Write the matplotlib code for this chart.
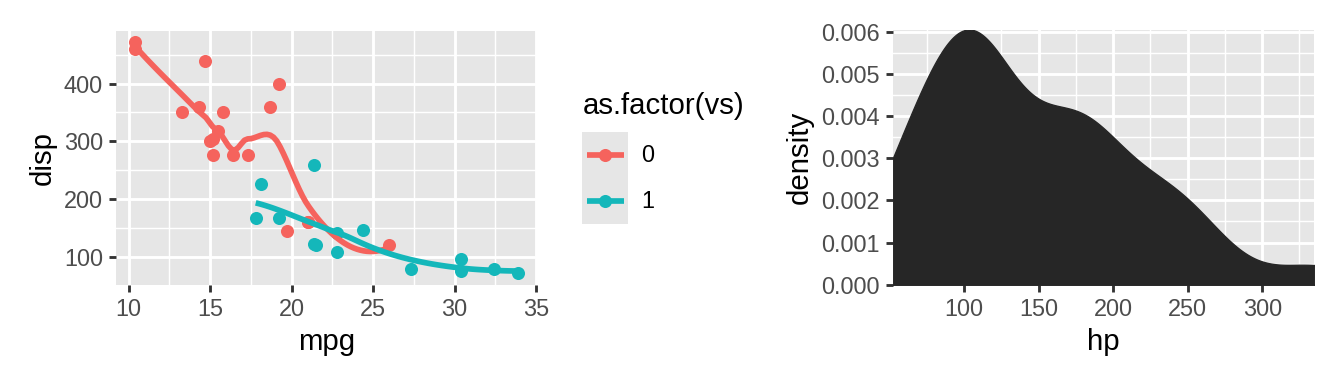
import numpy as np
import matplotlib
matplotlib.use("Agg")
import matplotlib.pyplot as plt

plt.rcParams['font.family'] = ['Liberation Sans', 'DejaVu Sans']

# mtcars data
mpg = [21.0, 21.0, 22.8, 21.4, 18.7, 18.1, 14.3, 24.4, 22.8, 19.2, 17.8, 16.4, 17.3, 15.2,
       10.4, 10.4, 14.7, 32.4, 30.4, 33.9, 21.5, 15.5, 15.2, 13.3, 19.2, 27.3, 26.0, 30.4,
       15.8, 19.7, 15.0, 21.4]
disp = [160, 160, 108, 258, 360, 225, 360, 146.7, 140.8, 167.6, 167.6, 275.8, 275.8, 275.8,
        472, 460, 440, 78.7, 75.7, 71.1, 120.1, 318, 304, 350, 400, 79, 120.3, 95.1,
        351, 145, 301, 121]
hp = [110, 110, 93, 110, 175, 105, 245, 62, 95, 123, 123, 180, 180, 180, 205, 215, 230, 66,
      52, 65, 97, 150, 150, 245, 175, 66, 91, 113, 264, 175, 335, 109]
vs = [0, 0, 1, 1, 0, 1, 0, 1, 1, 1, 1, 0, 0, 0, 0, 0, 0, 1, 1, 1, 1, 0, 0, 0, 0, 1, 0, 1,
      0, 0, 0, 1]
vs_levels = ["0", "1"]
vs_colors = ["#F5635D", "#14B7BA"]

mpg = np.array(mpg, float); disp = np.array(disp, float)
hp = np.array(hp, float); vs = np.array(vs)


def local_fit(x, y, x0, q):
    """local quadratic fit with tricube weights; returns value and slope at x0"""
    n = len(x)
    d = np.abs(x - x0)
    h = max(np.sort(d)[q - 1], 1e-12)
    u = np.clip(d / h, 0, 1)
    w = (1 - u ** 3) ** 3
    X = np.column_stack([np.ones(n), x - x0, (x - x0) ** 2])
    sw = np.sqrt(w)
    coef, *_ = np.linalg.lstsq(X * sw[:, None], y * sw, rcond=None)
    return coef[0], coef[1]


def loess_interp(x, y, xs, span=0.75, cell=0.2):
    """1-D loess as in R's default surface='interpolate' (kd tree + cubic Hermite)"""
    n = len(x)
    q = int(np.floor(n * span + 1e-5))
    fc = int(np.floor(n * span * cell))
    xsorted = np.sort(x)
    rng = xsorted[-1] - xsorted[0]
    mg = 0.005 * rng
    verts = {xsorted[0] - mg, xsorted[-1] + mg}

    def build(l, u, vlo, vhi):  # 0-based inclusive indices
        if (u - l + 1) <= fc:
            return
        m = (l + u) // 2
        while m > l and xsorted[m - 1] == xsorted[m]:
            m -= 1
        sv = xsorted[m]
        if sv == vlo or sv == vhi:
            return
        verts.add(sv)
        build(l, m, vlo, sv)
        build(m + 1, u, sv, vhi)

    build(0, n - 1, xsorted[0] - mg, xsorted[-1] + mg)
    vv = np.array(sorted(verts))
    vals = np.array([local_fit(x, y, v, q) for v in vv])
    out = []
    for x0 in xs:
        k = np.searchsorted(vv, x0, side='right') - 1
        k = min(max(k, 0), len(vv) - 2)
        a, b = vv[k], vv[k + 1]
        hh = b - a
        t = (x0 - a) / hh
        g0, s0 = vals[k]
        g1, s1 = vals[k + 1]
        phi0 = (1 - t) ** 2 * (1 + 2 * t)
        phi1 = t ** 2 * (3 - 2 * t)
        psi0 = t * (1 - t) ** 2
        psi1 = -t ** 2 * (1 - t)
        out.append(phi0 * g0 + phi1 * g1 + (psi0 * s0 + psi1 * s1) * hh)
    return np.array(out)


def kde_nrd0(x, grid):
    n = len(x)
    sd = np.std(x, ddof=1)
    q1, q3 = np.percentile(x, [25, 75])
    lo = min(sd, (q3 - q1) / 1.34)
    bw = 0.9 * lo * n ** (-0.2)
    z = (grid[:, None] - x[None, :]) / bw
    return np.exp(-0.5 * z ** 2).sum(axis=1) / (n * bw * np.sqrt(2 * np.pi))


DPI = 192
fig = plt.figure(figsize=(1344 / DPI, 384 / DPI), dpi=DPI)
W, H = 1344, 384
PANEL = "#E6E6E6"
TICKTXT = "#4D4D4D"
TICKCOL = "#333333"


def style(ax):
    ax.set_facecolor(PANEL)
    for s in ax.spines.values():
        s.set_visible(False)
    ax.grid(True, which='major', color='white', linewidth=1.07)
    ax.grid(True, which='minor', color='white', linewidth=0.53)
    ax.set_axisbelow(True)
    ax.tick_params(which='major', length=2.75, width=1.07, color=TICKCOL,
                   labelcolor=TICKTXT, labelsize=8.8, pad=2.2)
    ax.tick_params(which='minor', length=0)


def fr(x0, y0, x1, y1):
    return [x0 / W, 1 - y1 / H, (x1 - x0) / W, (y1 - y0) / H]


# Left panel
ax1 = fig.add_axes(fr(116, 30.5, 537.2, 284.8))
style(ax1)
for i, lev in enumerate([0, 1]):
    m = vs == lev
    ax1.scatter(mpg[m], disp[m], s=24, color=vs_colors[i], linewidths=0, zorder=2)
for i, lev in enumerate([0, 1]):
    m = vs == lev
    xs = np.linspace(mpg[m].min(), mpg[m].max(), 80)
    ys = loess_interp(mpg[m], disp[m], xs)
    ax1.plot(xs, ys, color=vs_colors[i], linewidth=2.13, zorder=3, solid_capstyle='butt')
xr = mpg.max() - mpg.min(); yr = disp.max() - disp.min()
ax1.set_xlim(mpg.min() - 0.05 * xr, mpg.max() + 0.05 * xr)
ax1.set_ylim(disp.min() - 0.05 * yr, disp.max() + 0.05 * yr)
ax1.set_xticks([10, 15, 20, 25, 30, 35])
ax1.set_xticks([12.5, 17.5, 22.5, 27.5, 32.5], minor=True)
ax1.set_yticks([100, 200, 300, 400])
ax1.set_yticks([150, 250, 350, 450], minor=True)
ax1.set_xlabel("mpg", fontsize=11, labelpad=2.75, color='black')
ax1.set_ylabel("disp", fontsize=11, labelpad=2.75, color='black')

# Legend
fig.text(583 / W, 1 - 106 / H, "as.factor(vs)", fontsize=11, ha='left', va='center', color='black')
lax = fig.add_axes(fr(582.3, 131.7, 628.3, 223.7))
lax.set_facecolor(PANEL)
for s in lax.spines.values():
    s.set_visible(False)
lax.set_xticks([]); lax.set_yticks([])
lax.set_xlim(0, 1); lax.set_ylim(0, 2)
for i, lab in enumerate(vs_levels):
    yc = 1.5 - i
    lax.plot([0.1, 0.9], [yc, yc], color=vs_colors[i], linewidth=2.13, solid_capstyle='butt')
    lax.plot([0.5], [yc], marker='o', markersize=4.9, color=vs_colors[i], markeredgewidth=0)
    fig.text(641 / W, 1 - (155.5 + 45.8 * i) / H, lab, fontsize=8.8, ha='left', va='center',
             color='black')

# Right panel
ax2 = fig.add_axes(fr(892.7, 29.5, 1314.3, 284.8))
style(ax2)
grid = np.linspace(hp.min(), hp.max(), 512)
dens = kde_nrd0(hp, grid)
ax2.fill_between(grid, 0, dens, color="#262626", linewidth=0.5, edgecolor="#262626", zorder=2)
ax2.set_xlim(hp.min(), hp.max())
ax2.set_ylim(0, dens.max())
ax2.set_xticks([100, 150, 200, 250, 300])
ax2.set_xticks([75, 125, 175, 225, 275, 325], minor=True)
ax2.set_yticks([0, 0.001, 0.002, 0.003, 0.004, 0.005, 0.006])
ax2.set_yticklabels(["0.000", "0.001", "0.002", "0.003", "0.004", "0.005", "0.006"])
ax2.set_yticks([0.0005, 0.0015, 0.0025, 0.0035, 0.0045, 0.0055], minor=True)
ax2.set_xlabel("hp", fontsize=11, labelpad=2.75, color='black')
ax2.set_ylabel("density", fontsize=11, labelpad=2.75, color='black')

fig.savefig("out.png", dpi=DPI, facecolor='white')
